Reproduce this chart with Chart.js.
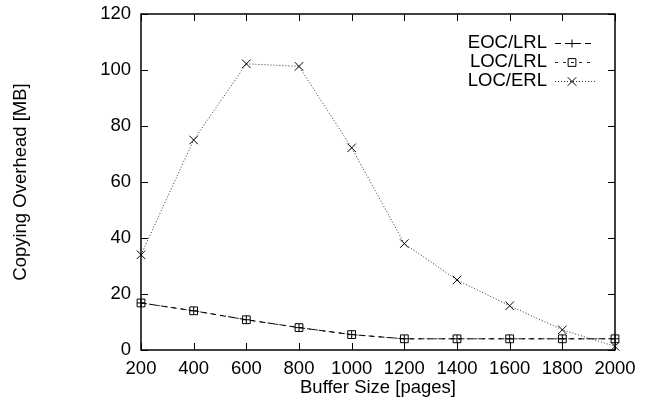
<!DOCTYPE html>
<html>
<head>
<meta charset="utf-8">
<script src="https://cdn.jsdelivr.net/npm/chart.js@4"></script>
<style>
  body { margin: 0; background: #fff; }
  #wrap { width: 652px; height: 402px; }
</style>
</head>
<body>
<div id="wrap"><canvas id="myChart" width="652" height="402"></canvas></div>
<script>
// buffer sizes (pages)
var bufferSizes = [200, 400, 600, 800, 1000, 1200, 1400, 1600, 1800, 2000];
// copying overhead in MB
var eocLrl = [16.8, 14, 10.8, 8, 5.5, 4, 4, 4, 4, 4];
var locLrl = [16.8, 14, 10.8, 8, 5.5, 4, 4, 4, 4, 4];
var locErl = [34, 75, 102.2, 101.3, 72.2, 38, 25, 15.8, 7.2, 1.3];
var seriesNames = ['EOC/LRL', 'LOC/LRL', 'LOC/ERL'];
var xTicks = [200, 400, 600, 800, 1000, 1200, 1400, 1600, 1800, 2000];
var yTicks = [0, 20, 40, 60, 80, 100, 120];

var FONT = '"Liberation Sans", Arial, sans-serif';
var FSIZE = 18.5;

function toXY(vals) {
    return vals.map(function (v, i) { return { x: bufferSizes[i], y: v }; });
}

// gnuplot-like frame with inward ticks on all sides
var framePlugin = {
    id: 'frame',
    afterDatasetsDraw: function (chart) {
        var ctx = chart.ctx, a = chart.chartArea;
        var xs = chart.scales.x, ys = chart.scales.y;
        ctx.save();
        ctx.strokeStyle = '#000';
        ctx.lineWidth = 1.5;
        ctx.strokeRect(a.left, a.top, a.right - a.left, a.bottom - a.top);
        ctx.lineWidth = 1;
        ctx.beginPath();
        xTicks.forEach(function (t) {
            var px = Math.round(xs.getPixelForValue(t)) + 0.5;
            ctx.moveTo(px, a.bottom); ctx.lineTo(px, a.bottom - 7);
            ctx.moveTo(px, a.top); ctx.lineTo(px, a.top + 7);
        });
        yTicks.forEach(function (t) {
            var py = Math.round(ys.getPixelForValue(t)) + 0.5;
            ctx.moveTo(a.left, py); ctx.lineTo(a.left + 7, py);
            ctx.moveTo(a.right, py); ctx.lineTo(a.right - 7, py);
        });
        ctx.stroke();
        ctx.restore();
    }
};

// key in the top right corner: label then line sample
var keyPlugin = {
    id: 'key',
    afterDatasetsDraw: function (chart) {
        var ctx = chart.ctx;
        ctx.save();
        ctx.font = FSIZE + 'px ' + FONT;
        ctx.textAlign = 'right';
        ctx.textBaseline = 'middle';
        chart.data.datasets.forEach(function (ds, i) {
            var y = 43 + i * 19;
            ctx.fillStyle = '#000';
            ctx.fillText(ds.label, 547, y);
            ctx.strokeStyle = ds.borderColor;
            ctx.lineWidth = 1;
            ctx.setLineDash(ds.borderDash);
            ctx.beginPath();
            ctx.moveTo(555, y + 0.5); ctx.lineTo(595, y + 0.5);
            ctx.stroke();
            ctx.setLineDash([]);
            ctx.strokeStyle = '#000';
            ctx.fillStyle = 'rgba(0,0,0,0)';
            Chart.helpers.drawPoint(ctx, {
                pointStyle: ds.pointStyle, radius: ds.pointRadius, borderWidth: 1
            }, 572, y + 0.5);
        });
        ctx.restore();
    }
};

var ctx = document.getElementById('myChart').getContext('2d');
new Chart(ctx, {
    type: 'line',
    data: {
        datasets: [{
            label: seriesNames[0],
            data: toXY(eocLrl),
            borderColor: '#000',
            borderWidth: 1,
            borderDash: [6, 4],
            pointStyle: 'cross',
            pointRadius: 4,
            pointBorderColor: '#000',
            pointBorderWidth: 1
        }, {
            label: seriesNames[1],
            data: toXY(locLrl),
            borderColor: '#222',
            borderWidth: 1,
            borderDash: [3, 5],
            pointStyle: 'rect',
            pointRadius: 5.5,
            pointBackgroundColor: 'rgba(0,0,0,0)',
            pointBorderColor: '#000',
            pointBorderWidth: 1
        }, {
            label: seriesNames[2],
            data: toXY(locErl),
            borderColor: '#333',
            borderWidth: 1,
            borderDash: [1, 2],
            pointStyle: 'crossRot',
            pointRadius: 6,
            pointBorderColor: '#000',
            pointBorderWidth: 1
        }]
    },
    plugins: [framePlugin, keyPlugin],
    options: {
        responsive: false,
        animation: false,
        clip: false,
        layout: { padding: { top: 14, right: 37, left: 0, bottom: 0 } },
        plugins: {
            legend: { display: false },
            tooltip: { enabled: false }
        },
        scales: {
            x: {
                type: 'linear',
                min: 200,
                max: 2000,
                afterBuildTicks: function (s) { s.ticks = xTicks.map(function (v) { return { value: v }; }); },
                afterFit: function (s) { s.height = 52; s.paddingLeft = 0; s.paddingRight = 0; },
                grid: { display: false, drawTicks: false },
                border: { display: false },
                ticks: {
                    color: '#000', font: { family: FONT, size: FSIZE }, padding: 8, maxRotation: 0, autoSkip: false,
                    callback: function (v) { return String(v); }
                },
                title: { display: true, text: 'Buffer Size [pages]', color: '#000', font: { family: FONT, size: FSIZE }, padding: { top: 0, bottom: 3 } }
            },
            y: {
                min: 0,
                max: 120,
                afterBuildTicks: function (s) { s.ticks = yTicks.map(function (v) { return { value: v }; }); },
                afterFit: function (s) { s.width = 141; s.paddingTop = 0; s.paddingBottom = 0; },
                grid: { display: false, drawTicks: false },
                border: { display: false },
                ticks: {
                    color: '#000', font: { family: FONT, size: FSIZE }, padding: 10,
                    callback: function (v) { return String(v); }
                },
                title: { display: true, text: 'Copying Overhead [MB]', color: '#000', font: { family: FONT, size: FSIZE }, padding: { top: 10, bottom: 0 } }
            }
        }
    }
});
</script>
</body>
</html>
